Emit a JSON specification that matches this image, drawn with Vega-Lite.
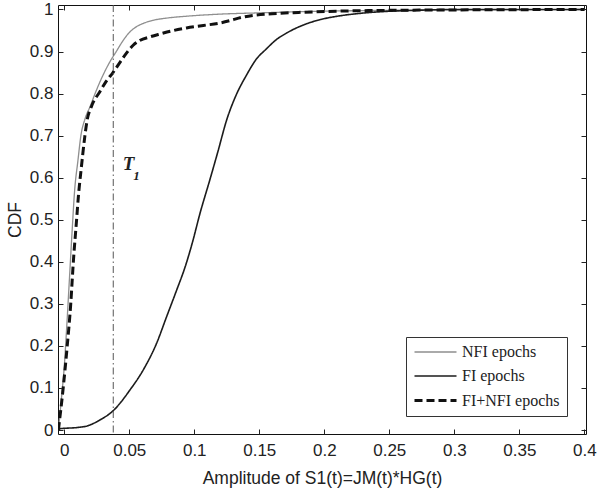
{
  "$schema": "https://vega.github.io/schema/vega-lite/v6.json",
  "width": 528,
  "height": 429,
  "autosize": {"type": "none"},
  "padding": {"left": 58, "top": 5, "right": 14, "bottom": 59},
  "background": "white",
  "config": {
    "view": {"stroke": "#111", "strokeWidth": 1},
    "axis": {"grid": false, "domain": false, "tickColor": "#222", "tickSize": -5, "labelFont": "Liberation Sans", "labelFontSize": 17, "labelColor": "#222", "titleFont": "Liberation Sans", "titleFontSize": 17.5, "titleFontWeight": "normal", "titleColor": "#222"}
  },
  "datasets": {
    "curves": [
      {"series": "NFI epochs", "x": -0.0045, "y": 0},
      {"series": "NFI epochs", "x": -0.002, "y": 0.08},
      {"series": "NFI epochs", "x": 0, "y": 0.15},
      {"series": "NFI epochs", "x": 0.002, "y": 0.25},
      {"series": "NFI epochs", "x": 0.004, "y": 0.36},
      {"series": "NFI epochs", "x": 0.006, "y": 0.47},
      {"series": "NFI epochs", "x": 0.008, "y": 0.57},
      {"series": "NFI epochs", "x": 0.0105, "y": 0.64},
      {"series": "NFI epochs", "x": 0.0128, "y": 0.7},
      {"series": "NFI epochs", "x": 0.016, "y": 0.74},
      {"series": "NFI epochs", "x": 0.02, "y": 0.77},
      {"series": "NFI epochs", "x": 0.0237, "y": 0.8},
      {"series": "NFI epochs", "x": 0.03, "y": 0.845},
      {"series": "NFI epochs", "x": 0.035, "y": 0.875},
      {"series": "NFI epochs", "x": 0.04, "y": 0.9},
      {"series": "NFI epochs", "x": 0.045, "y": 0.925},
      {"series": "NFI epochs", "x": 0.05, "y": 0.945},
      {"series": "NFI epochs", "x": 0.055, "y": 0.958},
      {"series": "NFI epochs", "x": 0.06, "y": 0.966},
      {"series": "NFI epochs", "x": 0.068, "y": 0.974},
      {"series": "NFI epochs", "x": 0.08, "y": 0.98},
      {"series": "NFI epochs", "x": 0.094, "y": 0.984},
      {"series": "NFI epochs", "x": 0.12, "y": 0.989},
      {"series": "NFI epochs", "x": 0.15, "y": 0.992},
      {"series": "NFI epochs", "x": 0.2, "y": 0.996},
      {"series": "NFI epochs", "x": 0.25, "y": 0.998},
      {"series": "NFI epochs", "x": 0.3, "y": 0.999},
      {"series": "NFI epochs", "x": 0.4, "y": 1},
      {"series": "FI epochs", "x": -0.0045, "y": 0.003},
      {"series": "FI epochs", "x": 0, "y": 0.004},
      {"series": "FI epochs", "x": 0.01, "y": 0.006},
      {"series": "FI epochs", "x": 0.018, "y": 0.01},
      {"series": "FI epochs", "x": 0.0275, "y": 0.024},
      {"series": "FI epochs", "x": 0.0377, "y": 0.046},
      {"series": "FI epochs", "x": 0.0505, "y": 0.095},
      {"series": "FI epochs", "x": 0.0608, "y": 0.143},
      {"series": "FI epochs", "x": 0.071, "y": 0.206},
      {"series": "FI epochs", "x": 0.0788, "y": 0.27},
      {"series": "FI epochs", "x": 0.0865, "y": 0.333},
      {"series": "FI epochs", "x": 0.093, "y": 0.388},
      {"series": "FI epochs", "x": 0.0985, "y": 0.445},
      {"series": "FI epochs", "x": 0.1044, "y": 0.515},
      {"series": "FI epochs", "x": 0.112, "y": 0.595},
      {"series": "FI epochs", "x": 0.118, "y": 0.66},
      {"series": "FI epochs", "x": 0.125, "y": 0.738},
      {"series": "FI epochs", "x": 0.132, "y": 0.795},
      {"series": "FI epochs", "x": 0.14, "y": 0.843},
      {"series": "FI epochs", "x": 0.148, "y": 0.883},
      {"series": "FI epochs", "x": 0.155, "y": 0.905},
      {"series": "FI epochs", "x": 0.163, "y": 0.928},
      {"series": "FI epochs", "x": 0.171, "y": 0.944},
      {"series": "FI epochs", "x": 0.183, "y": 0.962},
      {"series": "FI epochs", "x": 0.197, "y": 0.976},
      {"series": "FI epochs", "x": 0.21, "y": 0.984},
      {"series": "FI epochs", "x": 0.225, "y": 0.99},
      {"series": "FI epochs", "x": 0.245, "y": 0.995},
      {"series": "FI epochs", "x": 0.27, "y": 0.998},
      {"series": "FI epochs", "x": 0.3, "y": 1},
      {"series": "FI epochs", "x": 0.4, "y": 1},
      {"series": "FI+NFI epochs", "x": -0.0045, "y": 0},
      {"series": "FI+NFI epochs", "x": -0.0008, "y": 0.1},
      {"series": "FI+NFI epochs", "x": 0.0023, "y": 0.2},
      {"series": "FI+NFI epochs", "x": 0.005, "y": 0.3},
      {"series": "FI+NFI epochs", "x": 0.007, "y": 0.4},
      {"series": "FI+NFI epochs", "x": 0.0095, "y": 0.5},
      {"series": "FI+NFI epochs", "x": 0.011, "y": 0.56},
      {"series": "FI+NFI epochs", "x": 0.013, "y": 0.62},
      {"series": "FI+NFI epochs", "x": 0.0159, "y": 0.7},
      {"series": "FI+NFI epochs", "x": 0.0175, "y": 0.735},
      {"series": "FI+NFI epochs", "x": 0.021, "y": 0.77},
      {"series": "FI+NFI epochs", "x": 0.0275, "y": 0.805},
      {"series": "FI+NFI epochs", "x": 0.032, "y": 0.828},
      {"series": "FI+NFI epochs", "x": 0.0375, "y": 0.85},
      {"series": "FI+NFI epochs", "x": 0.043, "y": 0.875},
      {"series": "FI+NFI epochs", "x": 0.048, "y": 0.897},
      {"series": "FI+NFI epochs", "x": 0.053, "y": 0.915},
      {"series": "FI+NFI epochs", "x": 0.058, "y": 0.926},
      {"series": "FI+NFI epochs", "x": 0.066, "y": 0.935},
      {"series": "FI+NFI epochs", "x": 0.074, "y": 0.942},
      {"series": "FI+NFI epochs", "x": 0.084, "y": 0.95},
      {"series": "FI+NFI epochs", "x": 0.094, "y": 0.956},
      {"series": "FI+NFI epochs", "x": 0.107, "y": 0.962},
      {"series": "FI+NFI epochs", "x": 0.12, "y": 0.968},
      {"series": "FI+NFI epochs", "x": 0.128, "y": 0.974},
      {"series": "FI+NFI epochs", "x": 0.136, "y": 0.981},
      {"series": "FI+NFI epochs", "x": 0.145, "y": 0.986},
      {"series": "FI+NFI epochs", "x": 0.16, "y": 0.99},
      {"series": "FI+NFI epochs", "x": 0.18, "y": 0.993},
      {"series": "FI+NFI epochs", "x": 0.21, "y": 0.996},
      {"series": "FI+NFI epochs", "x": 0.25, "y": 0.998},
      {"series": "FI+NFI epochs", "x": 0.3, "y": 0.999},
      {"series": "FI+NFI epochs", "x": 0.4, "y": 1}
    ],
    "threshold": [{"x": 0.0377}],
    "annot": [
      {"label": "T", "x": 0.0495, "y": 0.632},
      {"label": "1", "x": 0.0555, "y": 0.605}
    ]
  },
  "layer": [
    {
      "data": {"name": "curves"},
      "mark": {"type": "line", "clip": true, "interpolate": "monotone"},
      "encoding": {
        "x": {"field": "x", "type": "quantitative", "scale": {"domain": [-0.0048, 0.4013], "nice": false, "zero": false},
              "axis": {"orient": "bottom", "values": [0, 0.05, 0.1, 0.15, 0.2, 0.25, 0.3, 0.35, 0.4], "format": "~g", "labelPadding": 13, "title": "Amplitude of S1(t)=JM(t)*HG(t)", "titleY": 35}},
        "y": {"field": "y", "type": "quantitative", "scale": {"domain": [-0.0095, 1.0107], "nice": false, "zero": false},
              "axis": {"orient": "left", "values": [0, 0.1, 0.2, 0.3, 0.4, 0.5, 0.6, 0.7, 0.8, 0.9, 1], "format": "~g", "labelPadding": 10, "title": "CDF", "titleX": -34}},
        "color": {"field": "series", "type": "nominal", "sort": ["NFI epochs", "FI epochs", "FI+NFI epochs"],
                  "scale": {"domain": ["NFI epochs", "FI epochs", "FI+NFI epochs"], "range": ["#8f8f8f", "#1c1c1c", "#111111"]},
                  "legend": {"title": null, "orient": "none", "legendX": 348, "legendY": 332, "fillColor": "white", "strokeColor": "#333", "padding": 7,
                             "labelFont": "Liberation Serif", "labelFontSize": 16, "labelColor": "#222", "symbolType": "M-3,0H3", "symbolSize": 196,
                             "symbolOffset": 14, "labelOffset": 18, "rowPadding": 8}},
        "strokeDash": {"field": "series", "type": "nominal", "sort": ["NFI epochs", "FI epochs", "FI+NFI epochs"],
                       "scale": {"domain": ["NFI epochs", "FI epochs", "FI+NFI epochs"], "range": [[1, 0], [1, 0], [8, 4]]}, "legend": {"title": null}},
        "strokeWidth": {"field": "series", "type": "ordinal", "sort": ["NFI epochs", "FI epochs", "FI+NFI epochs"],
                        "scale": {"type": "ordinal", "domain": ["NFI epochs", "FI epochs", "FI+NFI epochs"], "range": [1.3, 1.6, 3]}, "legend": {"title": null}},
        "order": {"field": "series"}
      }
    },
    {
      "data": {"name": "threshold"},
      "mark": {"type": "rule", "color": "#555", "strokeWidth": 1, "strokeDash": [7, 3, 1.5, 3]},
      "encoding": {
        "x": {"field": "x", "type": "quantitative", "axis": null}
      }
    },
    {
      "data": {"name": "annot"},
      "mark": {"type": "text", "font": "Liberation Serif", "fontStyle": "italic", "fontWeight": "bold", "color": "#222"},
      "encoding": {
        "x": {"field": "x", "type": "quantitative", "axis": null},
        "y": {"field": "y", "type": "quantitative", "axis": null},
        "text": {"field": "label"},
        "size": {"field": "label", "type": "nominal", "scale": {"domain": ["T", "1"], "range": [19, 13]}, "legend": null}
      }
    },
    {
      "data": {"name": "curves"},
      "mark": {"type": "point", "opacity": 0},
      "encoding": {
        "x": {"field": "x", "type": "quantitative", "axis": {"orient": "top", "values": [0, 0.05, 0.1, 0.15, 0.2, 0.25, 0.3, 0.35, 0.4], "labels": false, "title": null}},
        "y": {"field": "y", "type": "quantitative", "axis": {"orient": "right", "values": [0, 0.1, 0.2, 0.3, 0.4, 0.5, 0.6, 0.7, 0.8, 0.9, 1], "labels": false, "title": null}}
      }
    }
  ],
  "resolve": {"axis": {"x": "independent", "y": "independent"}}
}
